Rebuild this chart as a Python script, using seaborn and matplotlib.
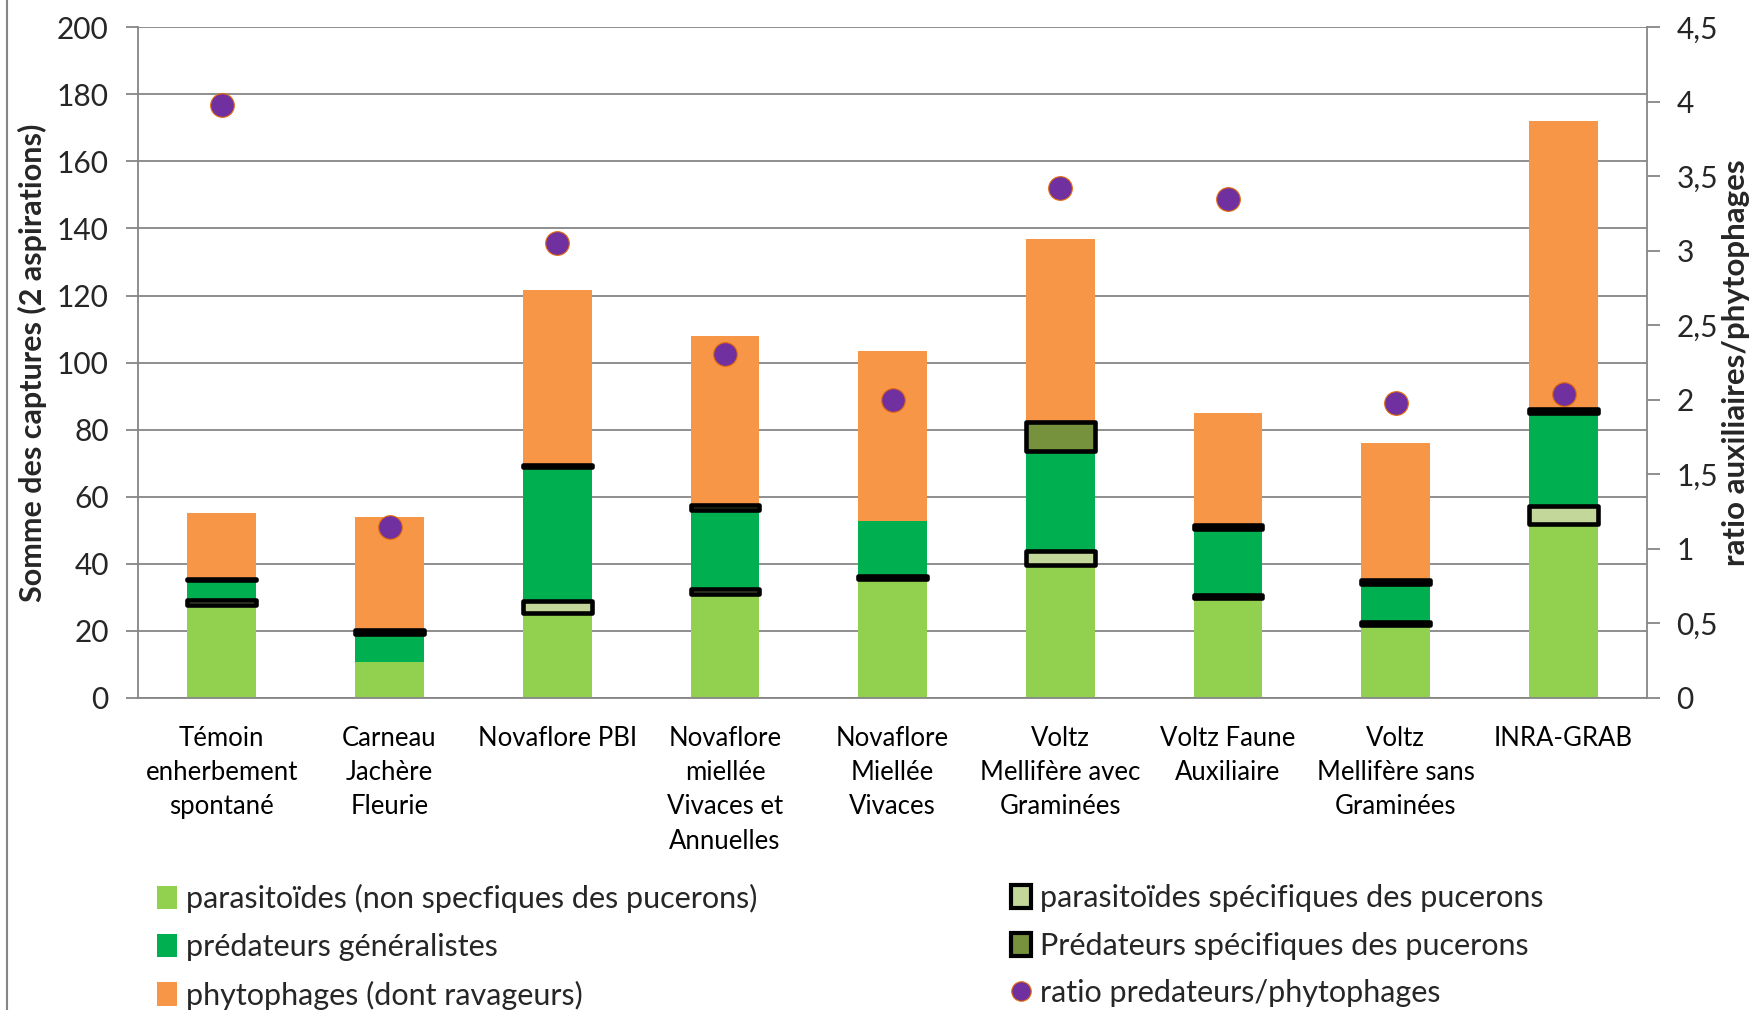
import numpy as np
import matplotlib.pyplot as plt
import seaborn as sns
from matplotlib.patches import Patch
from matplotlib.lines import Line2D

# ---------------------------------------------
# data
# ---------------------------------------------
categories = ["Témoin\nenherbement\nspontané", "Carneau\nJachère\nFleurie", "Novaflore PBI",
              "Novaflore\nmiellée\nVivaces et\nAnnuelles", "Novaflore\nMiellée\nVivaces",
              "Voltz\nMellifère avec\nGraminées", "Voltz Faune\nAuxiliaire",
              "Voltz\nMellifère sans\nGraminées", "INRA-GRAB"]
para_ns = [27.6, 10.8, 25.2, 30.9, 35.5, 39.6, 29.9, 21.6, 51.8]
para_s = [1.7, 0.0, 3.8, 1.6, 0.8, 4.3, 0.7, 0.9, 5.4]
pred_gen = [5.75, 8.2, 39.9, 23.5, 16.5, 29.8, 19.7, 11.5, 27.85]
pred_s = [0.3, 1.3, 0.6, 1.5, 0.0, 8.6, 1.2, 1.1, 1.2]
phyto = [19.65, 33.7, 52.2, 50.5, 50.8, 54.7, 33.5, 40.9, 85.75]
ratio = [3.98, 1.15, 3.05, 2.31, 2.0, 3.42, 3.35, 1.98, 2.04]

left_ticks = list(range(0, 201, 20))
right_ticks = [0, 0.5, 1, 1.5, 2, 2.5, 3, 3.5, 4, 4.5]
right_labels = ["0", "0,5", "1", "1,5", "2", "2,5", "3", "3,5", "4", "4,5"]

series_names = ["parasitoïdes (non specfiques des pucerons)", "parasitoïdes spécifiques des pucerons",
                "prédateurs généralistes", "Prédateurs spécifiques des pucerons",
                "phytophages (dont ravageurs)", "ratio predateurs/phytophages"]
colors = ["#92D050", "#C4D79B", "#00B050", "#76923C", "#F79646"]
boxed = [False, True, False, True, False]

sns.set_theme(style="white")
plt.rcParams['font.family'] = ['Lato', 'DejaVu Sans']
grey = "#868686"

fig = plt.figure(figsize=(17.6, 10.1), dpi=100)
ax = fig.add_axes([0.0784, 0.309, 0.8576, 0.664])
x = np.arange(len(categories))
w = 0.41

# stacked bars
bottom = np.zeros(len(x))
for vals, col, bx in zip([para_ns, para_s, pred_gen, pred_s, phyto], colors, boxed):
    vals = np.array(vals)
    if bx:
        m = vals > 0
        ax.bar(x[m], vals[m], w, bottom=bottom[m], color=col, edgecolor="black",
               linewidth=3.3, joinstyle="round", zorder=3)
    else:
        ax.bar(x, vals, w, bottom=bottom, color=col, linewidth=0, zorder=2)
    bottom += vals

ax.set_xlim(-0.5, len(x) - 0.5)
ax.set_ylim(0, 200)
ax.set_yticks(left_ticks)
ax.yaxis.grid(True, color=grey, linewidth=1.3)
ax.set_axisbelow(True)
ax.set_xticks(x, categories, fontsize=18.5, linespacing=1.47)
ax.set_xticks(np.arange(len(x) + 1) - 0.5, minor=True)
ax.tick_params(axis="x", which="major", length=0, pad=20, colors="black")
ax.tick_params(axis="x", which="minor", length=9, width=1.3, color=grey, direction="out")
ax.tick_params(axis="y", length=9, width=1.3, color=grey, direction="out", pad=12,
               labelsize=21.5, left=True)
for s in ["top", "right"]:
    ax.spines[s].set_visible(False)
for s in ["left", "bottom"]:
    ax.spines[s].set_color(grey)
    ax.spines[s].set_linewidth(1.3)
ax.set_ylabel("Somme des captures (2 aspirations)", fontsize=22, fontweight="bold", labelpad=7)

# ratio on secondary axis
ax2 = ax.twinx()
sns.scatterplot(x=x, y=ratio, ax=ax2, s=290, color="#7030A0", edgecolor="#E46C0A",
                linewidth=0.8, zorder=5, legend=False)
ax2.set_ylim(0, 4.5)
ax2.set_yticks(right_ticks, right_labels)
ax2.tick_params(axis="y", length=9, width=1.3, color=grey, direction="out", pad=12,
                labelsize=21.5, right=True)
for s in ["top", "left", "bottom"]:
    ax2.spines[s].set_visible(False)
ax2.spines["right"].set_color(grey)
ax2.spines["right"].set_linewidth(1.3)
ax2.set_ylabel("ratio auxiliaires/phytophages", fontsize=22.5, fontweight="bold", labelpad=3)

# chart border at the left edge
fig.add_artist(Line2D([0.004, 0.004], [0, 1], color=grey, lw=1.5, transform=fig.transFigure))

# legend in two columns
h = [Patch(facecolor=colors[0], edgecolor="none"),
     Patch(facecolor=colors[2], edgecolor="none"),
     Patch(facecolor=colors[4], edgecolor="none")]
h2 = [Patch(facecolor=colors[1], edgecolor="black", linewidth=3),
      Patch(facecolor=colors[3], edgecolor="black", linewidth=3),
      Line2D([], [], marker="o", linestyle="none", markersize=14, markerfacecolor="#7030A0",
             markeredgecolor="#E46C0A", markeredgewidth=0.8)]
leg_kw = dict(frameon=False, fontsize=22, handlelength=0.65, handleheight=0.8,
              handletextpad=0.3, labelspacing=0.64, borderpad=0, borderaxespad=0,
              loc="upper left")
fig.legend(h, [series_names[0], series_names[2], series_names[4]],
           bbox_to_anchor=(0.0892, 0.1245), **leg_kw)
fig.legend(h2, [series_names[1], series_names[3], series_names[5]],
           bbox_to_anchor=(0.5744, 0.1245), **leg_kw)

fig.savefig("out.png", dpi=100)
